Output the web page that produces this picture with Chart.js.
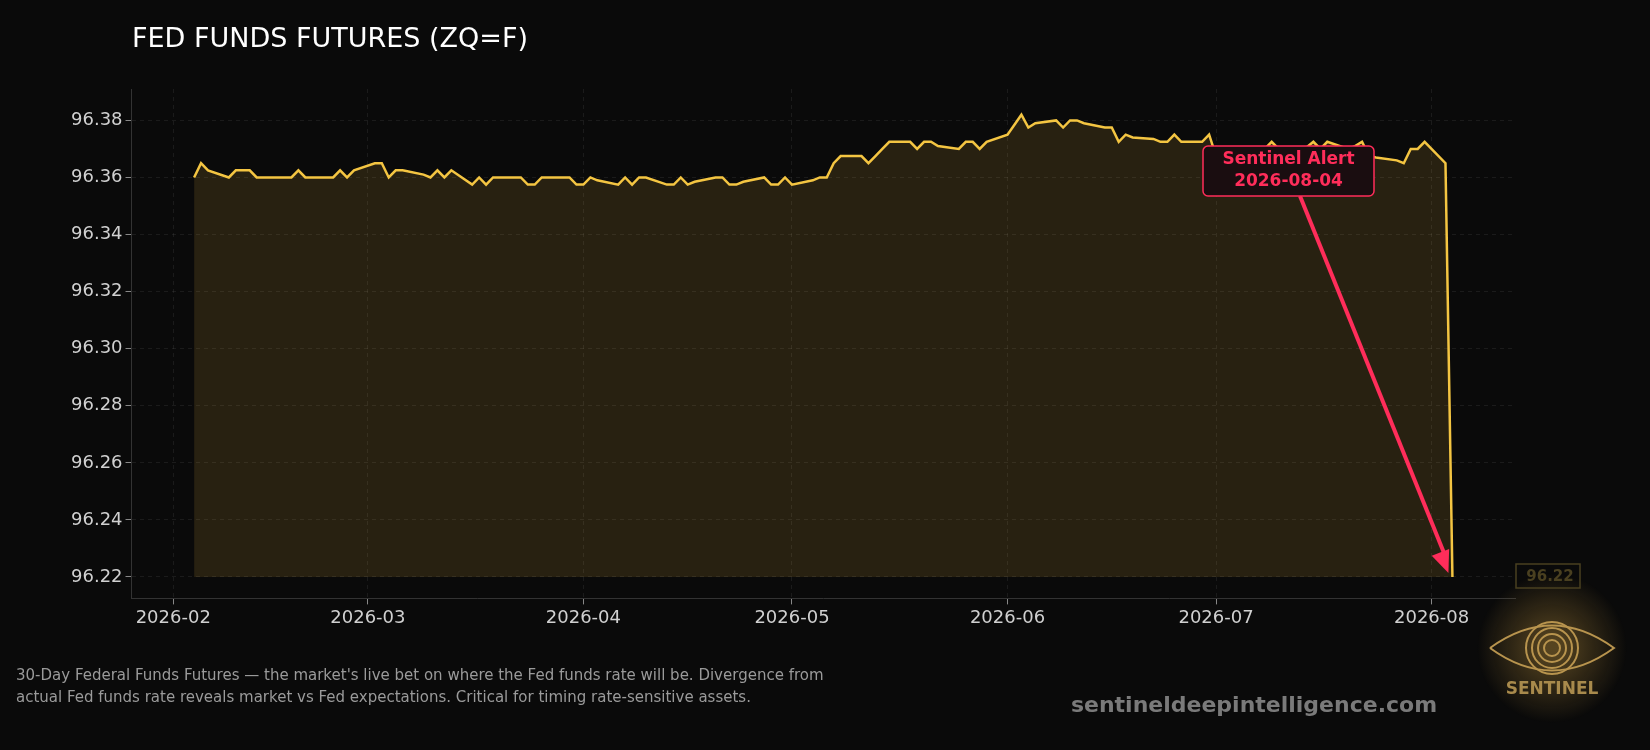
<!DOCTYPE html>
<html>
<head>
<meta charset="utf-8">
<script src="https://cdn.jsdelivr.net/npm/chart.js@4.4.1/dist/chart.umd.min.js"></script>
<style>
  html, body { margin: 0; background: #0a0a0a; overflow: hidden; }
  #wrap { width: 1650px; height: 750px; position: relative; }
</style>
</head>
<body>
<div id="wrap"><canvas id="myChart" width="1650" height="750"></canvas></div>
<script>
'use strict';

// daily closes, one per weekday from 2026-02-04 to 2026-08-04
let febValues = [96.360, 96.365, 96.3625, 96.360, 96.3625, 96.3625, 96.3625, 96.360, 96.360, 96.360, 96.360, 96.3625, 96.360, 96.360, 96.360, 96.3625, 96.360, 96.3625];
let marValues = [96.365, 96.365, 96.360, 96.3625, 96.3625, 96.361, 96.360, 96.3625, 96.360, 96.3625, 96.3575, 96.360, 96.3575, 96.360, 96.360, 96.360, 96.3575, 96.3575, 96.360, 96.360, 96.360, 96.3575];
let aprValues = [96.3575, 96.360, 96.359, 96.3575, 96.360, 96.3575, 96.360, 96.360, 96.3575, 96.3575, 96.360, 96.3575, 96.3585, 96.360, 96.360, 96.3575, 96.3575, 96.3585, 96.360, 96.3575, 96.3575, 96.360];
let mayValues = [96.3575, 96.359, 96.360, 96.360, 96.365, 96.3675, 96.3675, 96.365, 96.3675, 96.370, 96.3725, 96.3725, 96.370, 96.3725, 96.3725, 96.371, 96.370, 96.3725, 96.3725, 96.370, 96.3725];
let junValues = [96.375, 96.3785, 96.382, 96.3775, 96.379, 96.380, 96.3775, 96.380, 96.380, 96.379, 96.3775, 96.3775, 96.3725, 96.375, 96.374, 96.3735, 96.3725, 96.3725, 96.375, 96.3725, 96.3725, 96.375];
let julValues = [96.3675, 96.3675, 96.3675, 96.368, 96.3675, 96.370, 96.3725, 96.370, 96.370, 96.3705, 96.3725, 96.370, 96.3725, 96.370, 96.371, 96.3725, 96.3675, 96.367, 96.366, 96.365, 96.370, 96.370, 96.3725];
let augValues = [96.365, 96.22];

let startDate = '2026-02-04';
let monthTicks = ['2026-02-01', '2026-03-01', '2026-04-01', '2026-05-01', '2026-06-01', '2026-07-01', '2026-08-01'];
let yTicks = [96.22, 96.24, 96.26, 96.28, 96.30, 96.32, 96.34, 96.36, 96.38];
let alertDate = '2026-08-04';
let alertValue = 96.22;

const DAY = 86400000;
function dayNum(s) { return Date.parse(s + 'T00:00:00Z') / DAY; }
function fmt(d) { return new Date(d * DAY).toISOString().slice(0, 7); }

// pair weekday dates with values
let values = [].concat(febValues, marValues, aprValues, mayValues, junValues, julValues, augValues);
let points = [];
let d = dayNum(startDate);
for (let i = 0; i < values.length; i++) {
    while ([0, 6].includes(new Date(d * DAY).getUTCDay())) d++;
    points.push({ x: d, y: values[i] });
    d++;
}

const extras = {
    id: 'extras',
    afterDraw(chart) {
        const c = chart.ctx;
        const xs = chart.scales.x, ys = chart.scales.y;
        c.save();
        // title
        c.fillStyle = '#ffffff';
        c.font = '27px "DejaVu Sans"';
        c.textBaseline = 'middle';
        c.fillText('FED FUNDS FUTURES (ZQ=F)', 132, 40);
        // footer
        c.fillStyle = '#9a9a9a';
        c.font = '15px "DejaVu Sans"';
        c.fillText("30-Day Federal Funds Futures \u2014 the market's live bet on where the Fed funds rate will be. Divergence from", 16, 676);
        c.fillText('actual Fed funds rate reveals market vs Fed expectations. Critical for timing rate-sensitive assets.', 16, 698);
        c.fillStyle = '#7a7a7a';
        c.font = 'bold 22px "DejaVu Sans"';
        c.textAlign = 'center';
        c.fillText('sentineldeepintelligence.com', 1254, 706);
        // logo mark
        const lx = 1552, ly = 648;
        let g = c.createRadialGradient(lx, ly, 5, lx, ly, 75);
        g.addColorStop(0, 'rgba(180,140,60,0.45)');
        g.addColorStop(1, 'rgba(180,140,60,0)');
        c.fillStyle = g;
        c.beginPath(); c.arc(lx, ly, 75, 0, Math.PI * 2); c.fill();
        c.strokeStyle = '#b8944e'; c.lineWidth = 2;
        c.beginPath();
        c.moveTo(lx - 62, ly); c.quadraticCurveTo(lx, ly - 45, lx + 62, ly);
        c.quadraticCurveTo(lx, ly + 45, lx - 62, ly); c.stroke();
        for (let r = 8; r <= 26; r += 6) { c.beginPath(); c.arc(lx, ly, r, 0, Math.PI * 2); c.stroke(); }
        c.fillStyle = '#a88a4c';
        c.font = 'bold 17px "DejaVu Sans"';
        c.fillText('SENTINEL', lx, 690);
        // last value tag
        c.strokeStyle = '#4a4020'; c.lineWidth = 1.5;
        c.strokeRect(1516, 564, 64, 24);
        c.fillStyle = '#4a4020';
        c.font = 'bold 15px "DejaVu Sans"';
        c.fillText('96.22', 1550, 577);
        // alert annotation with arrow pointing at the drop
        const px = xs.getPixelForValue(dayNum(alertDate)), py = ys.getPixelForValue(alertValue);
        const bx = 1203, by = 146, bw = 171, bh = 50;
        const sx = 1300, sy = by + bh;
        c.strokeStyle = '#ff2d5a'; c.lineWidth = 4;
        c.beginPath(); c.moveTo(sx, sy); c.lineTo(px - 6, py - 18); c.stroke();
        const ang = Math.atan2(py - 4 - sy, px - 6 - sx);
        c.fillStyle = '#ff2d5a';
        c.beginPath();
        c.moveTo(px - 4, py - 4);
        c.lineTo(px - 4 - 24 * Math.cos(ang - 0.4), py - 4 - 24 * Math.sin(ang - 0.4));
        c.lineTo(px - 4 - 24 * Math.cos(ang + 0.4), py - 4 - 24 * Math.sin(ang + 0.4));
        c.closePath(); c.fill();
        c.fillStyle = '#1a0d10';
        c.strokeStyle = '#ff2d5a'; c.lineWidth = 1.5;
        c.beginPath(); c.roundRect(bx, by, bw, bh, 5); c.fill(); c.stroke();
        c.fillStyle = '#ff2d5a';
        c.font = 'bold 17px "DejaVu Sans"';
        c.fillText('Sentinel Alert', bx + bw / 2, by + 14);
        c.fillText(alertDate, bx + bw / 2, by + 36);
        c.restore();
    }
};

const ctx = document.getElementById('myChart');
new Chart(ctx, {
    type: 'line',
    data: {
        datasets: [{
            data: points,
            borderColor: '#f4c542',
            borderWidth: 2.5,
            pointRadius: 0,
            tension: 0,
            fill: { value: 96.22 },
            backgroundColor: 'rgba(244,197,66,0.13)'
        }]
    },
    options: {
        responsive: false,
        animation: false,
        layout: { padding: { left: 68, right: 135, top: 89, bottom: 118 } },
        plugins: { legend: { display: false }, tooltip: { enabled: false } },
        scales: {
            x: {
                type: 'linear',
                min: dayNum('2026-01-26'),
                max: dayNum('2026-08-13'),
                afterBuildTicks(axis) { axis.ticks = monthTicks.map(m => ({ value: dayNum(m) })); },
                ticks: { color: '#d0d0d0', font: { size: 18, family: 'DejaVu Sans' }, callback: v => fmt(v), maxRotation: 0, autoSkip: false },
                grid: { color: 'rgba(255,255,255,0.07)', tickColor: '#888', tickLength: 6 },
                border: { color: '#333', dash: [4, 4] }
            },
            y: {
                min: 96.2125,
                max: 96.391,
                afterBuildTicks(axis) { axis.ticks = yTicks.map(v => ({ value: v })); },
                ticks: { color: '#d0d0d0', font: { size: 18, family: 'DejaVu Sans' }, callback: v => v.toFixed(2) },
                grid: { color: 'rgba(255,255,255,0.07)', tickColor: '#888', tickLength: 6 },
                border: { color: '#333', dash: [4, 4] }
            }
        }
    },
    plugins: [extras]
});
</script>
</body>
</html>
